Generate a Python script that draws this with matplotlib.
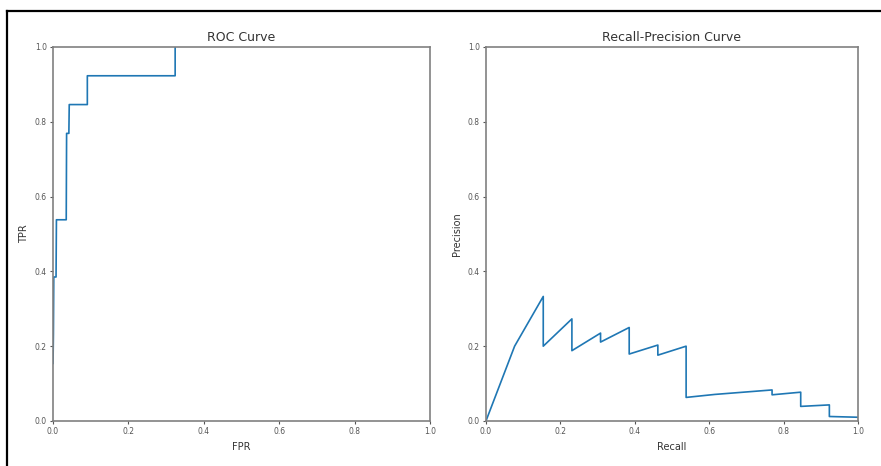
import matplotlib.pyplot as plt
from matplotlib.lines import Line2D

# ROC curve points
fpr = [0.0, 0.001, 0.002, 0.008, 0.009, 0.035, 0.036, 0.042, 0.043, 0.091, 0.091, 0.324, 0.324]
tpr = [0.154, 0.231, 0.385, 0.385, 0.538, 0.538, 0.769, 0.769, 0.846, 0.846, 0.923, 0.923, 1.0]

# Recall-precision points
recall = [0.0, 0.077, 0.154, 0.154, 0.231, 0.231, 0.308, 0.308, 0.385, 0.385,
          0.462, 0.462, 0.538, 0.538, 0.615, 0.692, 0.769, 0.769, 0.846, 0.846,
          0.923, 0.923, 1.0]
precision = [0.0, 0.2, 0.333, 0.2, 0.273, 0.188, 0.235, 0.211, 0.25, 0.179,
             0.203, 0.176, 0.2, 0.063, 0.071, 0.077, 0.083, 0.07, 0.077, 0.039,
             0.043, 0.012, 0.01]

spine_col = '#808080'
tick_col = '#555555'

fig = plt.figure(figsize=(8.81, 4.66), dpi=100)
ax1 = fig.add_axes([0.0602, 0.0966, 0.4278, 0.8026])
ax2 = fig.add_axes([0.5516, 0.0966, 0.4223, 0.8026])

ax1.plot(fpr, tpr, color='#1f77b4', lw=1.2)
ax1.set_title('ROC Curve', fontsize=9, color='#333333', pad=4)
ax1.set_xlabel('FPR', fontsize=7, color='#333333', labelpad=4)
ax1.set_ylabel('TPR', fontsize=7, color='#333333', labelpad=4)

ax2.plot(recall, precision, color='#1f77b4', lw=1.2)
ax2.set_title('Recall-Precision Curve', fontsize=9, color='#333333', pad=4)
ax2.set_xlabel('Recall', fontsize=7, color='#333333', labelpad=4)
ax2.set_ylabel('Precision', fontsize=7, color='#333333', labelpad=4)

for ax in (ax1, ax2):
    ax.set_xlim(0, 1)
    ax.set_ylim(0, 1)
    ax.set_xticks([0, 0.2, 0.4, 0.6, 0.8, 1.0])
    ax.set_yticks([0, 0.2, 0.4, 0.6, 0.8, 1.0])
    ax.tick_params(labelsize=5.5, colors=tick_col, length=2.5, width=0.8, pad=2)
    for s in ax.spines.values():
        s.set_color(spine_col)
        s.set_linewidth(1.2)

# black frame of the screenshot (top and left edges)
fig.add_artist(Line2D([7 / 881, 7 / 881], [0, 1 - 11 / 466], color='black', lw=1.6,
                      transform=fig.transFigure))
fig.add_artist(Line2D([7 / 881, 1], [1 - 11 / 466, 1 - 11 / 466], color='black', lw=1.6,
                      transform=fig.transFigure))

fig.savefig('out.png', dpi=100)
